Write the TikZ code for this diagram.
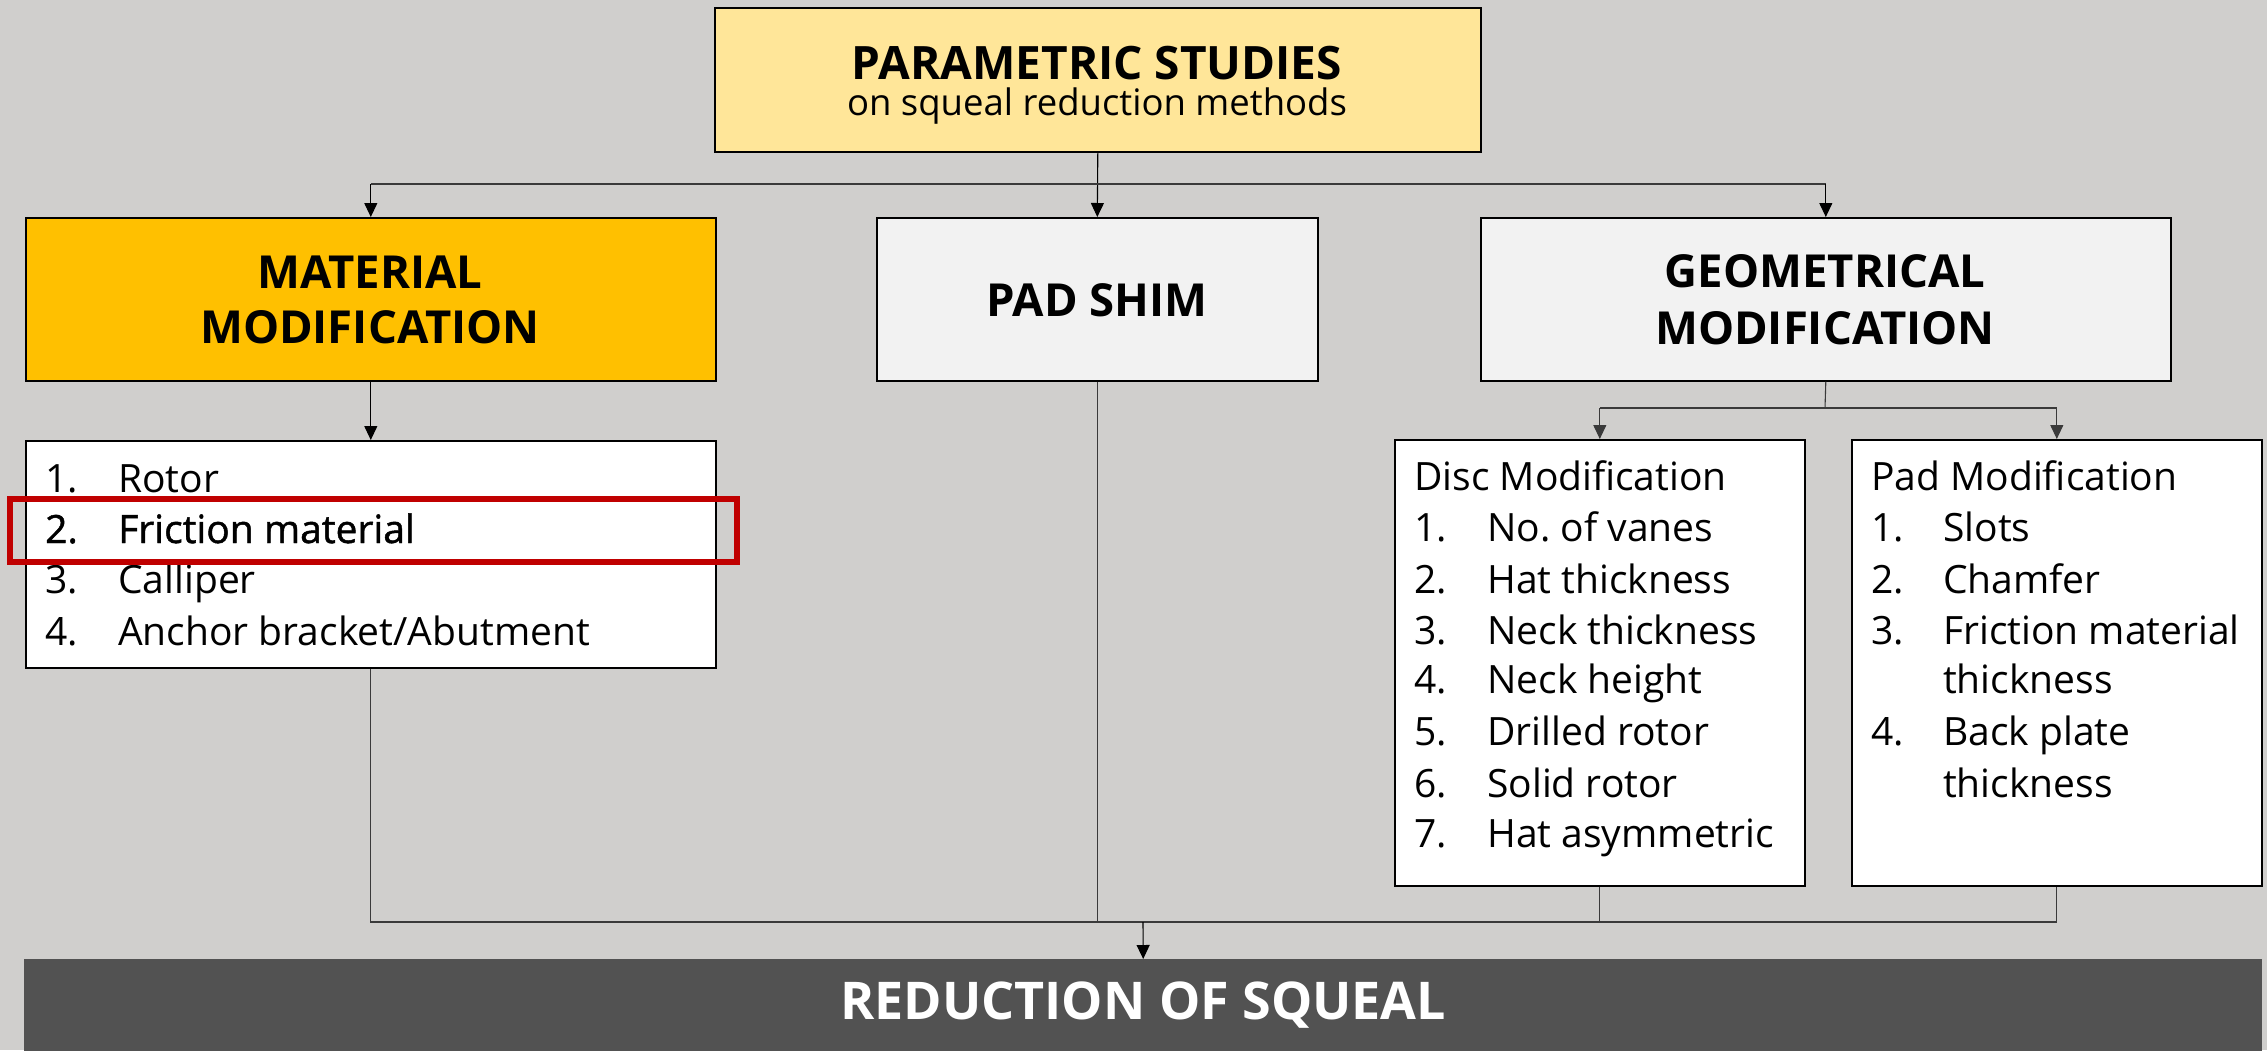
\documentclass[tikz,border=0pt]{standalone}
\usepackage{fontspec}
\setmainfont{Open Sans}
\newfontfamily\semib[FakeBold=1.2]{Open Sans}
\usetikzlibrary{arrows.meta}
\definecolor{bg}{HTML}{D0CFCD}
\definecolor{topyel}{HTML}{FFE699}
\definecolor{matyel}{HTML}{FFC000}
\definecolor{lgrey}{HTML}{F2F2F2}
\definecolor{dgrey}{HTML}{525252}
\definecolor{hlred}{HTML}{C00000}
\definecolor{connc}{HTML}{3A3A3A}
\tikzset{
  box/.style={draw=black, line width=1.6pt, inner sep=0pt, anchor=north west},
  headf/.style={font=\fontsize{45.5}{55}\selectfont\bfseries, anchor=base, inner sep=0pt},
  itemf/.style={font=\fontsize{39}{51}\selectfont, anchor=base west, inner sep=0pt},
  conn/.style={draw=connc, line width=1.1pt},
  arr/.style={conn, -{Triangle[length=14pt,width=13pt]}},
}
\begin{document}
\begin{tikzpicture}[x=1pt,y=-1pt]
\fill[bg] (0,0) rectangle (2267,1050);
\useasboundingbox (0,0) rectangle (2267,1050);

% boxes
\node[box, fill=topyel, minimum width=766pt, minimum height=144pt] (top) at (714,7) {};
\node[box, fill=matyel, minimum width=690pt, minimum height=163pt] (mat) at (25,217) {};
\node[box, fill=lgrey, minimum width=441pt, minimum height=163pt] (shim) at (876,217) {};
\node[box, fill=lgrey, minimum width=690pt, minimum height=163pt] (geo) at (1480,217) {};
\node[box, fill=white, minimum width=690pt, minimum height=227pt] (matlist) at (25,440) {};
\node[box, fill=white, minimum width=410pt, minimum height=446pt] (disc) at (1394,439) {};
\node[box, fill=white, minimum width=410pt, minimum height=446pt] (padmod) at (1851,439) {};
\node[anchor=north west, fill=dgrey, inner sep=0pt, minimum width=2238pt, minimum height=92pt,
      font=\fontsize{52}{52}\selectfont\bfseries, text=white] (bar) at (24,959) {REDUCTION OF SQUEAL};

% top texts
\node[headf, font=\fontsize{46}{50}\selectfont\bfseries] (t1) at (1097,79) {PARAMETRIC STUDIES};
\node[anchor=base, inner sep=0pt, font=\fontsize{36.5}{40}\selectfont] (t2) at (1097,115) {on squeal reduction methods};
\node[headf] (m1) at (370,288) {MATERIAL};
\node[headf] (m2) at (370,343) {MODIFICATION};
\node[headf] (p1) at (1097,316) {PAD SHIM};
\node[headf] (g1) at (1825,287) {GEOMETRICAL};
\node[headf] (g2) at (1825,344) {MODIFICATION};

% material list
\node[itemf] (mn1) at (45,492) {1.};
\node[itemf] (mi1) at (118,492) {Rotor};
\node[itemf] (mn2) at (45,543) {\semib 2.};
\node[itemf] (mi2) at (118,543) {\semib Friction material};
\node[itemf] (mn3) at (45,593) {3.};
\node[itemf] (mi3) at (118,593) {Calliper};
\node[itemf] (mn4) at (45,645) {4.};
\node[itemf] (mi4) at (118,645) {Anchor bracket/Abutment};
\node[draw=hlred, line width=5.5pt, anchor=north west, inner sep=0pt,
      minimum width=727pt, minimum height=63pt] (hl) at (7,496) {};

% disc list
\node[itemf] (dh) at (1414,490) {Disc Modification};
\node[itemf] (dn1) at (1414,541) {1.}; \node[itemf] (di1) at (1487,541) {No.\ of vanes};
\node[itemf] (dn2) at (1414,593) {2.}; \node[itemf] (di2) at (1487,593) {Hat thickness};
\node[itemf] (dn3) at (1414,644) {3.}; \node[itemf] (di3) at (1487,644) {Neck thickness};
\node[itemf] (dn4) at (1414,693) {4.}; \node[itemf] (di4) at (1487,693) {Neck height};
\node[itemf] (dn5) at (1414,745) {5.}; \node[itemf] (di5) at (1487,745) {Drilled rotor};
\node[itemf] (dn6) at (1414,797) {6.}; \node[itemf] (di6) at (1487,797) {Solid rotor};
\node[itemf] (dn7) at (1414,847) {7.}; \node[itemf] (di7) at (1487,847) {Hat asymmetric};

% pad list
\node[itemf] (ph) at (1871,490) {Pad Modification};
\node[itemf] (pn1) at (1871,541) {1.}; \node[itemf] (pi1) at (1943,541) {Slots};
\node[itemf] (pn2) at (1871,593) {2.}; \node[itemf] (pi2) at (1943,593) {Chamfer};
\node[itemf] (pn3) at (1871,644) {3.}; \node[itemf] (pi3) at (1943,644) {Friction material};
\node[itemf] (pi3b) at (1943,693) {thickness};
\node[itemf] (pn4) at (1871,745) {4.}; \node[itemf] (pi4) at (1943,745) {Back plate};
\node[itemf] (pi4b) at (1943,797) {thickness};

% connectors top
\coordinate (tj) at (1097,184);
\draw[arr, draw=black] (top.south) -- (shim.north);
\draw[conn] (mat.north |- tj) -- (geo.north |- tj);
\draw[arr, draw=black] (mat.north |- tj) -- (mat.north);
\draw[arr, draw=black] (geo.north |- tj) -- (geo.north);
\draw[arr, draw=black] (mat.south) -- (matlist.north);

% geometrical split
\coordinate (gj) at (1825,408);
\draw[conn] (geo.south) -- (gj);
\draw[conn] (disc.north |- gj) -- (padmod.north |- gj);
\draw[arr] (disc.north |- gj) -- (disc.north);
\draw[arr] (padmod.north |- gj) -- (padmod.north);

% bottom merge
\coordinate (mj) at (1143,922);
\draw[conn] (matlist.south) -- (matlist.south |- mj) -- (padmod.south |- mj) -- (padmod.south);
\draw[conn] (shim.south) -- (shim.south |- mj);
\draw[conn] (disc.south) -- (disc.south |- mj);
\draw[arr, draw=black] (mj) -- (bar.north);
\end{tikzpicture}
\end{document}
